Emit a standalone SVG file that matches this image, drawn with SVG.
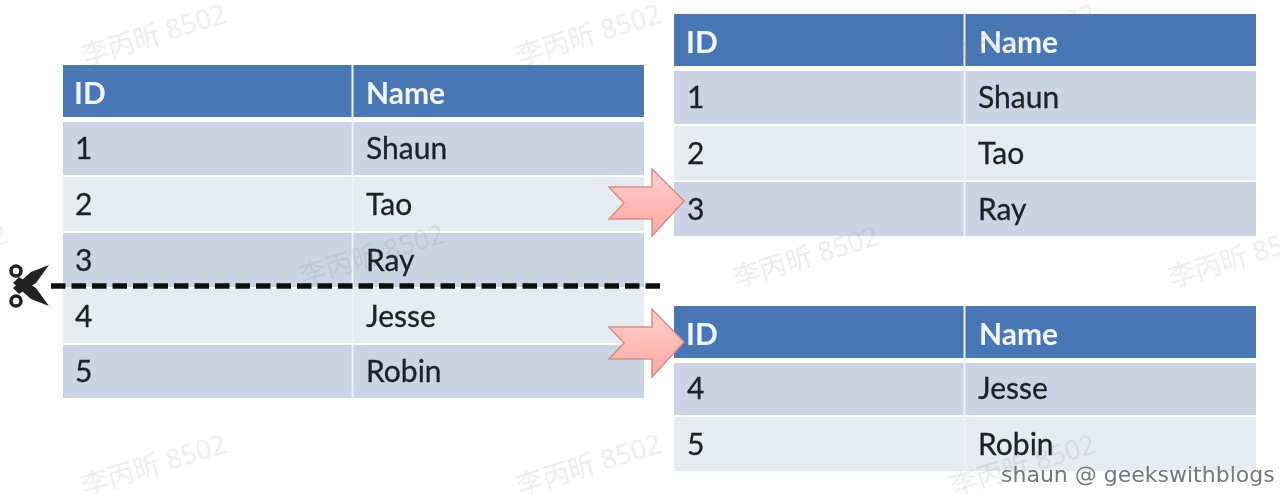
<svg xmlns="http://www.w3.org/2000/svg" width="1280" height="494" viewBox="0 0 1280 494">
<defs>
<style>
text{font-family:Lato,"Noto Sans","Noto Sans CJK SC",sans-serif}
.h{fill:#4a76b5}.o{fill:#cbd3e4}.e{fill:#e6eaf1}
.ht{fill:#f2f6fc;font-size:30px;font-weight:700}
.t{fill:#1c2027;font-size:30px;stroke:#1c2027;stroke-width:.3px}
.wm{fill:#777;fill-opacity:.14;font-size:27px;font-family:"Noto Sans","Noto Sans CJK SC",sans-serif}
.cred{fill:#75777c;font-size:22px;font-family:"DejaVu Sans",sans-serif}
.sep{stroke:#eef1f6;stroke-width:2}
.ar{fill:url(#pk);stroke:#d98c88;stroke-width:1.500}
</style>
<linearGradient id="pk" x1="0" y1="0" x2="0" y2="1"><stop offset="0" stop-color="#ffd0cc"/><stop offset="1" stop-color="#fba8a2"/></linearGradient>
<filter id="soft" filterUnits="userSpaceOnUse" x="0" y="0" width="1280" height="494"><feGaussianBlur stdDeviation="0.65"/></filter>
</defs>
<rect width="1280" height="494" fill="#fff"/>
<g filter="url(#soft)">
<g id="table-full">
<rect class="h" x="63" y="65" width="581" height="52"/>
<rect class="o" x="63" y="122" width="581" height="53"/>
<rect class="e" x="63" y="177" width="581" height="54"/>
<rect class="o" x="63" y="233" width="581" height="54"/>
<rect class="e" x="63" y="289" width="581" height="54"/>
<rect class="o" x="63" y="345" width="581" height="53"/>
<line class="sep" x1="352.500" y1="65" x2="352.500" y2="398"/>
<text class="ht" x="74" y="104">ID</text><text class="ht" x="366" y="104">Name</text>
<text class="t" x="75" y="159">1</text><text class="t" x="366" y="159">Shaun</text>
<text class="t" x="75" y="215">2</text><text class="t" x="366" y="215">Tao</text>
<text class="t" x="75" y="271">3</text><text class="t" x="366" y="271">Ray</text>
<text class="t" x="75" y="327">4</text><text class="t" x="366" y="327">Jesse</text>
<text class="t" x="75" y="382">5</text><text class="t" x="366" y="382">Robin</text>
</g>
<g id="table-top">
<rect class="h" x="674" y="14" width="582" height="52"/>
<rect class="o" x="674" y="71" width="582" height="53"/>
<rect class="e" x="674" y="126" width="582" height="54"/>
<rect class="o" x="674" y="182" width="582" height="54"/>
<line class="sep" x1="964.500" y1="14" x2="964.500" y2="236"/>
<text class="ht" x="686" y="53">ID</text><text class="ht" x="979" y="53">Name</text>
<text class="t" x="687" y="108">1</text><text class="t" x="978" y="108">Shaun</text>
<text class="t" x="687" y="164">2</text><text class="t" x="978" y="164">Tao</text>
<text class="t" x="687" y="220">3</text><text class="t" x="978" y="220">Ray</text>
</g>
<g id="table-bottom">
<rect class="h" x="674" y="306" width="582" height="52"/>
<rect class="o" x="674" y="363" width="582" height="52"/>
<rect class="e" x="674" y="417" width="582" height="54"/>
<line class="sep" x1="964.500" y1="306" x2="964.500" y2="471"/>
<text class="ht" x="686" y="345">ID</text><text class="ht" x="979" y="345">Name</text>
<text class="t" x="687" y="399">4</text><text class="t" x="978" y="399">Jesse</text>
<text class="t" x="687" y="455">5</text><text class="t" x="978" y="455">Robin</text>
</g>
<g id="connectors">
<path class="ar" d="M609 187H652V169L684 201L652 236V219H609L624 203Z"/>
<path class="ar" d="M609 327H652V309L684 342L652 377V359H609L624 343Z"/>
<path d="M51 286H662" fill="none" stroke="#111" stroke-width="5.500" stroke-dasharray="14.500 6"/>
</g>
<g id="scissors">
<path d="M49 265L31 272L13 288L19 294L36 283Z" fill="#222"/>
<path d="M49 306L31 299L13 283L19 277L36 288Z" fill="#222"/>
<circle cx="16" cy="271" r="5" fill="#fff" stroke="#222" stroke-width="3.500"/>
<circle cx="16" cy="301" r="5" fill="#fff" stroke="#222" stroke-width="3.500"/>
</g>
<g id="watermarks">
<text class="wm" transform="translate(85 66) rotate(-17)">李丙昕 8502</text>
<text class="wm" transform="translate(520 66) rotate(-17)">李丙昕 8502</text>
<text class="wm" transform="translate(954 66) rotate(-17)">李丙昕 8502</text>
<text class="wm" transform="translate(-134 286) rotate(-17)">李丙昕 8502</text>
<text class="wm" transform="translate(303 286) rotate(-17)">李丙昕 8502</text>
<text class="wm" transform="translate(737 288) rotate(-17)">李丙昕 8502</text>
<text class="wm" transform="translate(1172 288) rotate(-17)">李丙昕 8502</text>
<text class="wm" transform="translate(85 496) rotate(-17)">李丙昕 8502</text>
<text class="wm" transform="translate(520 496) rotate(-17)">李丙昕 8502</text>
<text class="wm" transform="translate(954 496) rotate(-17)">李丙昕 8502</text>
</g>
<text id="credit" class="cred" x="1001" y="482">shaun @ geekswithblogs</text>
</g>
</svg>
